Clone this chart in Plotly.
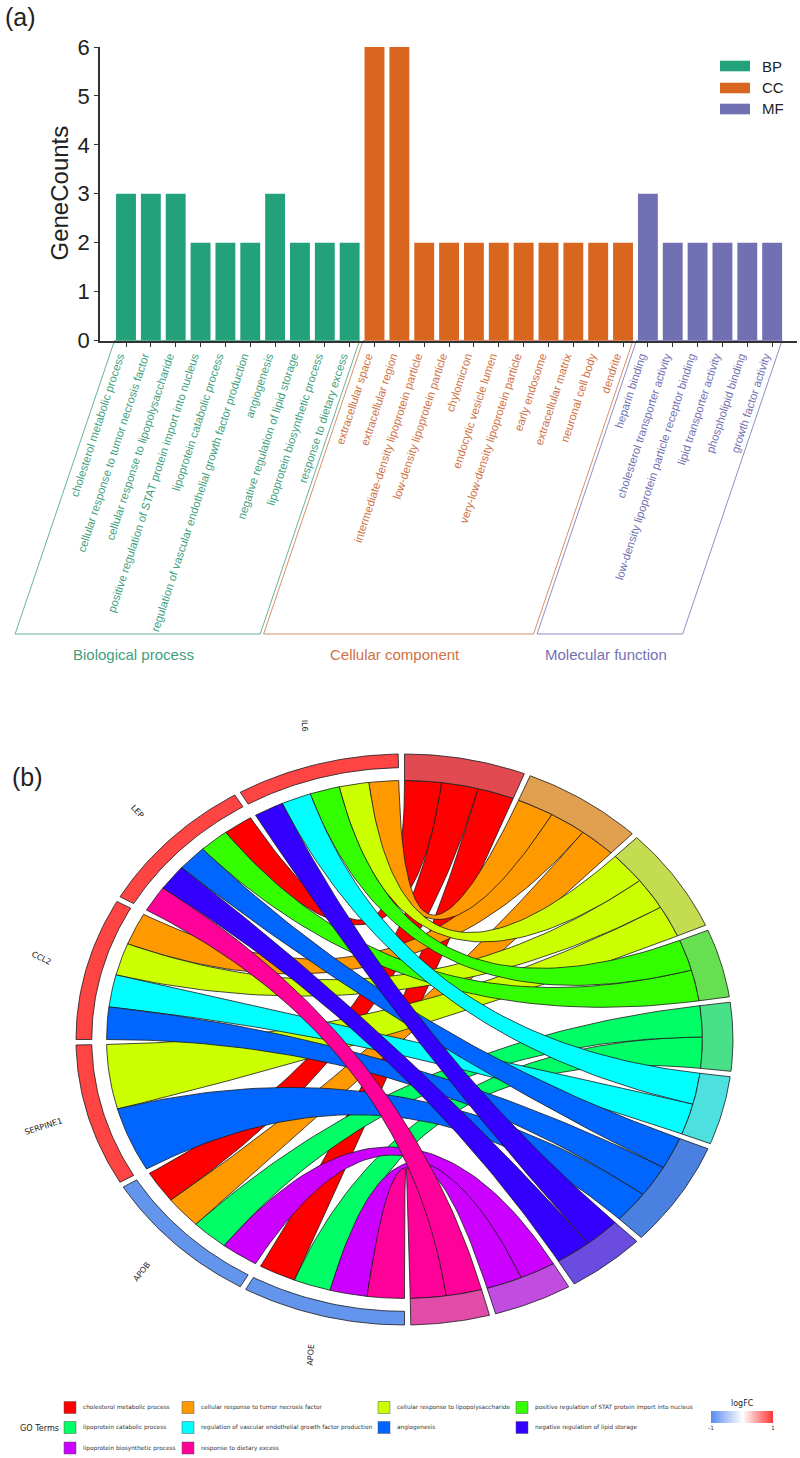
import math
import plotly.graph_objects as go

W, H = 800, 1458

# ---------- panel (a) data ----------
BP_TERMS = ["cholesterol metabolic process", "cellular response to tumor necrosis factor",
            "cellular response to lipopolysaccharide", "positive regulation of STAT protein import into nucleus",
            "lipoprotein catabolic process", "regulation of vascular endothelial growth factor production",
            "angiogenesis", "negative regulation of lipid storage", "lipoprotein biosynthetic process",
            "response to dietary excess"]
BP_COUNTS = [3, 3, 3, 2, 2, 2, 3, 2, 2, 2]
CC_TERMS = ["extracellular space", "extracellular region", "intermediate-density lipoprotein particle",
            "low-density lipoprotein particle", "chylomicron", "endocytic vesicle lumen",
            "very-low-density lipoprotein particle", "early endosome", "extracellular matrix",
            "neuronal cell body", "dendrite"]
CC_COUNTS = [6, 6, 2, 2, 2, 2, 2, 2, 2, 2, 2]
MF_TERMS = ["heparin binding", "cholesterol transporter activity",
            "low-density lipoprotein particle receptor binding", "lipid transporter activity",
            "phospholipid binding", "growth factor activity"]
MF_COUNTS = [3, 2, 2, 2, 2, 2]
GROUP_CODES = ["BP", "CC", "MF"]
GROUP_NAMES = ["Biological process", "Cellular component", "Molecular function"]
GROUP_COLORS = ["#23A17A", "#D9661F", "#7170B3"]
GROUP_TEXT_COLORS = ["#3F9F80", "#CF7246", "#7471B2"]

# ---------- panel (b) data ----------
GENES = ["APOE", "APOB", "SERPINE1", "CCL2", "LEP", "IL6"]            # clockwise from 6 o'clock
GENE_COLORS = ["#6495ED", "#6495ED", "#FF4444", "#FF4444", "#FF4444", "#FF4444"]
GENE_LABEL_ANGLES = [-86, -52, -18, 26, 47, 86]
GENE_TERMS = [[9, 8, 4, 0], [8, 4, 1, 0], [6, 2], [6, 5, 2, 1], [9, 7, 6, 3, 0], [7, 5, 3, 2, 1]]
GENE_SHARE = [4, 4, 4, 4, 4, 4]
TERM_COLORS = ["#FF0000", "#FF9900", "#CCFF00", "#33FF00", "#00FF66",
               "#00FFFF", "#0066FF", "#3300FF", "#CC00FF", "#FF0099"]
TERM_BAND_COLORS = ["#E04A50", "#E0A050", "#C4DC50", "#66E050", "#48E088",
                    "#4CE0E0", "#4A80E0", "#6A4CE0", "#C04CE0", "#E04CA8"]
LEGEND_ROWS = [[0, 1, 2, 3], [4, 5, 6, 7], [8, 9]]
LOGFC_TICKS = [-1, 1]

# ---------- geometry ----------
PLOT_X0, PLOT_X1, PLOT_Y0, PLOT_Y6 = 100, 797, 340.5, 47
XR = (-1.046, 27.0)
CCX, CCY, CRX, CRY = 404.5, 1039.5, 328.5, 285.5
CSPAN = 1.2
GAP = 1.1
R_OUT, R_TERM, R_GENE = 1.0, 0.907, 0.952
UNIT = 180 / sum(BP_COUNTS)


def fx(px):
    return px / W


def fy(py):
    return 1 - py / H


def data_to_paper(x, y):
    px = PLOT_X0 + (x - XR[0]) / (XR[1] - XR[0]) * (PLOT_X1 - PLOT_X0)
    py = PLOT_Y0 + y / 6 * (PLOT_Y6 - PLOT_Y0)
    return fx(px), fy(py)


def pol(r, t):
    a = math.radians(t)
    return r * math.sin(a), r * math.cos(a)


def arc(r, t0, t1, n=30):
    return [pol(r, t0 + (t1 - t0) * i / n) for i in range(n + 1)]


def bez(p, q, n=60):
    out = []
    for i in range(n + 1):
        s = i / n
        out.append(((1 - s) ** 2 * p[0] + s * s * q[0], (1 - s) ** 2 * p[1] + s * s * q[1]))
    return out


def poly_trace(pts, fill, lw=0.8):
    xs = [p[0] for p in pts]
    ys = [p[1] for p in pts]
    return go.Scatter(x=xs + xs[:1], y=ys + ys[:1], xaxis="x2", yaxis="y2", mode="lines", fill="toself",
                      fillcolor=fill, line=dict(color="#1a1a1a", width=lw), hoverinfo="skip", showlegend=False)


fig = go.Figure()

# ---------- bars ----------
groups = [(BP_TERMS, BP_COUNTS), (CC_TERMS, CC_COUNTS), (MF_TERMS, MF_COUNTS)]
ticktext, tickvals, shapes, annotations = [], [], [], []
idx = 0
for g, (names, counts) in enumerate(groups):
    xs = list(range(idx, idx + len(names)))
    fig.add_trace(go.Bar(x=xs, y=counts, width=0.8, marker=dict(color=GROUP_COLORS[g], line_width=0),
                         name=GROUP_CODES[g], showlegend=False))
    for x, n in zip(xs, names):
        tickvals.append(x)
        ticktext.append(f'<span style="color:{GROUP_TEXT_COLORS[g]}">{n}</span>')
    # slanted bracket around the group's labels
    a, b = xs[0] - 0.46, xs[-1] + 0.4
    corners = [data_to_paper(a, 0), data_to_paper(b, 0), data_to_paper(b - 4, -6), data_to_paper(a - 4, -6)]
    path = "M" + " L".join(f"{u:.5f},{v:.5f}" for u, v in corners) + " Z"
    shapes.append(dict(type="path", path=path, xref="paper", yref="paper", layer="below",
                       line=dict(color=GROUP_TEXT_COLORS[g], width=0.8)))
    mid = (corners[2][0] + corners[3][0]) / 2 - fx(4)
    annotations.append(dict(text=GROUP_NAMES[g], x=mid, y=fy(654), xref="paper", yref="paper", showarrow=False,
                            font=dict(size=15, color=GROUP_TEXT_COLORS[g]), xanchor="center", yanchor="middle"))
    # legend of panel (a)
    ly = [66, 88, 109][g]
    shapes.append(dict(type="rect", x0=fx(720), x1=fx(750), y0=fy(ly - 5.3), y1=fy(ly + 5.3), xref="paper",
                       yref="paper", fillcolor=GROUP_COLORS[g], line_width=0))
    annotations.append(dict(text=GROUP_CODES[g], x=fx(760), y=fy(ly), xref="paper", yref="paper", showarrow=False,
                            font=dict(size=15, color="#222222"), xanchor="left", yanchor="middle"))
    idx += len(names)

# ---------- chord ----------
term_counts = BP_COUNTS
term_start = [sum(term_counts[:i]) * UNIT for i in range(len(term_counts))]
term_end = [term_start[i] + term_counts[i] * UNIT - GAP for i in range(len(term_counts))]
gene_start = [180 + sum(GENE_SHARE[:i]) * UNIT for i in range(len(GENES))]
gene_end = [gene_start[i] + GENE_SHARE[i] * UNIT - GAP for i in range(len(GENES))]

# bands of each term: genes with the largest angle come first
term_members = {t: [] for t in range(len(term_counts))}
for g in reversed(range(len(GENES))):
    for t in GENE_TERMS[g]:
        term_members[t].append(g)

ribbons = {t: [] for t in range(len(term_counts))}
for g, terms in enumerate(GENE_TERMS):
    gw = (gene_end[g] - gene_start[g]) / len(terms)
    for k, t in enumerate(terms):
        b0, b1 = gene_start[g] + k * gw, gene_start[g] + (k + 1) * gw
        pos = term_members[t].index(g)
        tw = (term_end[t] - term_start[t]) / len(term_members[t])
        a0, a1 = term_start[t] + pos * tw, term_start[t] + (pos + 1) * tw
        pts = arc(R_TERM, b0, b1, 12) + bez(pol(R_TERM, b1), pol(R_TERM, a0)) + arc(R_TERM, a0, a1, 12) \
            + bez(pol(R_TERM, a1), pol(R_TERM, b0))
        ribbons[t].append(pts)
for t in range(len(term_counts)):
    for pts in ribbons[t]:
        fig.add_trace(poly_trace(pts, TERM_COLORS[t]))

for t in range(len(term_counts)):
    pts = arc(R_OUT, term_start[t], term_end[t]) + arc(R_TERM, term_end[t], term_start[t])
    fig.add_trace(poly_trace(pts, TERM_BAND_COLORS[t]))
for g in range(len(GENES)):
    pts = arc(R_OUT, gene_start[g], gene_end[g]) + arc(R_GENE, gene_end[g], gene_start[g])
    fig.add_trace(poly_trace(pts, GENE_COLORS[g]))
    lx, ly = pol(1.14, (gene_start[g] + gene_end[g]) / 2)
    annotations.append(dict(text=GENES[g], x=lx, y=ly, xref="x2", yref="y2", showarrow=False,
                            textangle=GENE_LABEL_ANGLES[g], font=dict(size=8, family="DejaVu Sans", color="#222222"),
                            xanchor="center", yanchor="middle"))

# ---------- chord legend ----------
COL_X = [64, 182, 378, 516]
ROW_Y = [1407.5, 1427.5, 1448]
for r, row in enumerate(LEGEND_ROWS):
    for c, t in enumerate(row):
        shapes.append(dict(type="rect", xref="paper", yref="paper", x0=fx(COL_X[c]), x1=fx(COL_X[c] + 12),
                           y0=fy(ROW_Y[r] - 6), y1=fy(ROW_Y[r] + 6), fillcolor=TERM_COLORS[t],
                           line=dict(color="#555555", width=0.5)))
        annotations.append(dict(text=BP_TERMS[t], x=fx(COL_X[c] + 16.5), y=fy(ROW_Y[r]), xref="paper", yref="paper",
                                showarrow=False, xanchor="left", yanchor="middle",
                                font=dict(size=5.8, family="DejaVu Sans", color="#333333")))
annotations.append(dict(text="GO Terms", x=fx(18), y=fy(1428), xref="paper", yref="paper", showarrow=False,
                        xanchor="left", yanchor="middle", font=dict(size=8.1, family="DejaVu Sans", color="#222222")))
annotations.append(dict(text="logFC", x=fx(742), y=fy(1403), xref="paper", yref="paper", showarrow=False,
                        xanchor="center", yanchor="middle", font=dict(size=8, family="DejaVu Sans", color="#222222")))
fig.add_trace(go.Heatmap(z=[[LOGFC_TICKS[0], 0, LOGFC_TICKS[1]]], x=[LOGFC_TICKS[0], 0, LOGFC_TICKS[1]], y=[0],
                         xaxis="x3", yaxis="y3", zsmooth="best", showscale=False, hoverinfo="skip",
                         colorscale=[[0, "#5B8DEF"], [0.5, "#FFFFFF"], [1, "#FF3333"]], zmin=-1, zmax=1))

# ---------- panel tags and title ----------
annotations.append(dict(text="(a)", x=fx(3), y=fy(17), xref="paper", yref="paper", showarrow=False, xanchor="left",
                        yanchor="middle", font=dict(size=25, color="#222222")))
annotations.append(dict(text="(b)", x=fx(10), y=fy(777), xref="paper", yref="paper", showarrow=False, xanchor="left",
                        yanchor="middle", font=dict(size=25, color="#222222")))
annotations.append(dict(text="GeneCounts", x=fx(59), y=fy(193.5), xref="paper", yref="paper", showarrow=False,
                        textangle=-90, xanchor="center", yanchor="middle", font=dict(size=24, color="#222222")))

AXC = "#333333"
fig.update_layout(
    width=W, height=H, margin=dict(l=0, r=0, t=0, b=0, autoexpand=False), paper_bgcolor="white", plot_bgcolor="white",
    font=dict(family="Liberation Sans"), showlegend=False, barmode="overlay",
    shapes=shapes, annotations=annotations,
    xaxis=dict(domain=[fx(PLOT_X0), fx(PLOT_X1)], range=list(XR), tickvals=tickvals, ticktext=ticktext, tickangle=-72,
               tickfont=dict(size=11.4), ticks="outside", ticklen=5, tickwidth=1.2, tickcolor=AXC, showline=True,
               linecolor=AXC, linewidth=1.5, showgrid=False, zeroline=False, anchor="y", automargin=False,
               ticklabelshift=-7, ticklabelstandoff=-2),
    yaxis=dict(domain=[fy(PLOT_Y0), fy(PLOT_Y6)], range=[0, 6], tickvals=[0, 1, 2, 3, 4, 5, 6],
               tickfont=dict(size=22, color="#222222"), ticks="outside", ticklen=4, tickwidth=1.2, tickcolor=AXC,
               showline=True, linecolor=AXC, linewidth=1.5, showgrid=False, zeroline=False, anchor="x", automargin=False),
    xaxis2=dict(domain=[fx(CCX - CSPAN * CRX), fx(CCX + CSPAN * CRX)], range=[-CSPAN, CSPAN], visible=False, anchor="y2",
                automargin=False),
    yaxis2=dict(domain=[fy(CCY + CSPAN * CRY), fy(CCY - CSPAN * CRY)], range=[-CSPAN, CSPAN], visible=False, anchor="x2",
                automargin=False),
    xaxis3=dict(domain=[fx(711), fx(773)], range=[-1, 1], tickvals=LOGFC_TICKS, ticktext=[str(v) for v in LOGFC_TICKS],
                tickfont=dict(size=6, family="DejaVu Sans", color="#333333"), ticks="", showgrid=False, zeroline=False,
                anchor="y3", automargin=False),
    yaxis3=dict(domain=[fy(1423), fy(1411)], visible=False, anchor="x3", automargin=False),
)

fig.write_html("out.html", config={"displayModeBar": False}, post_script="document.body.style.margin='0';")
